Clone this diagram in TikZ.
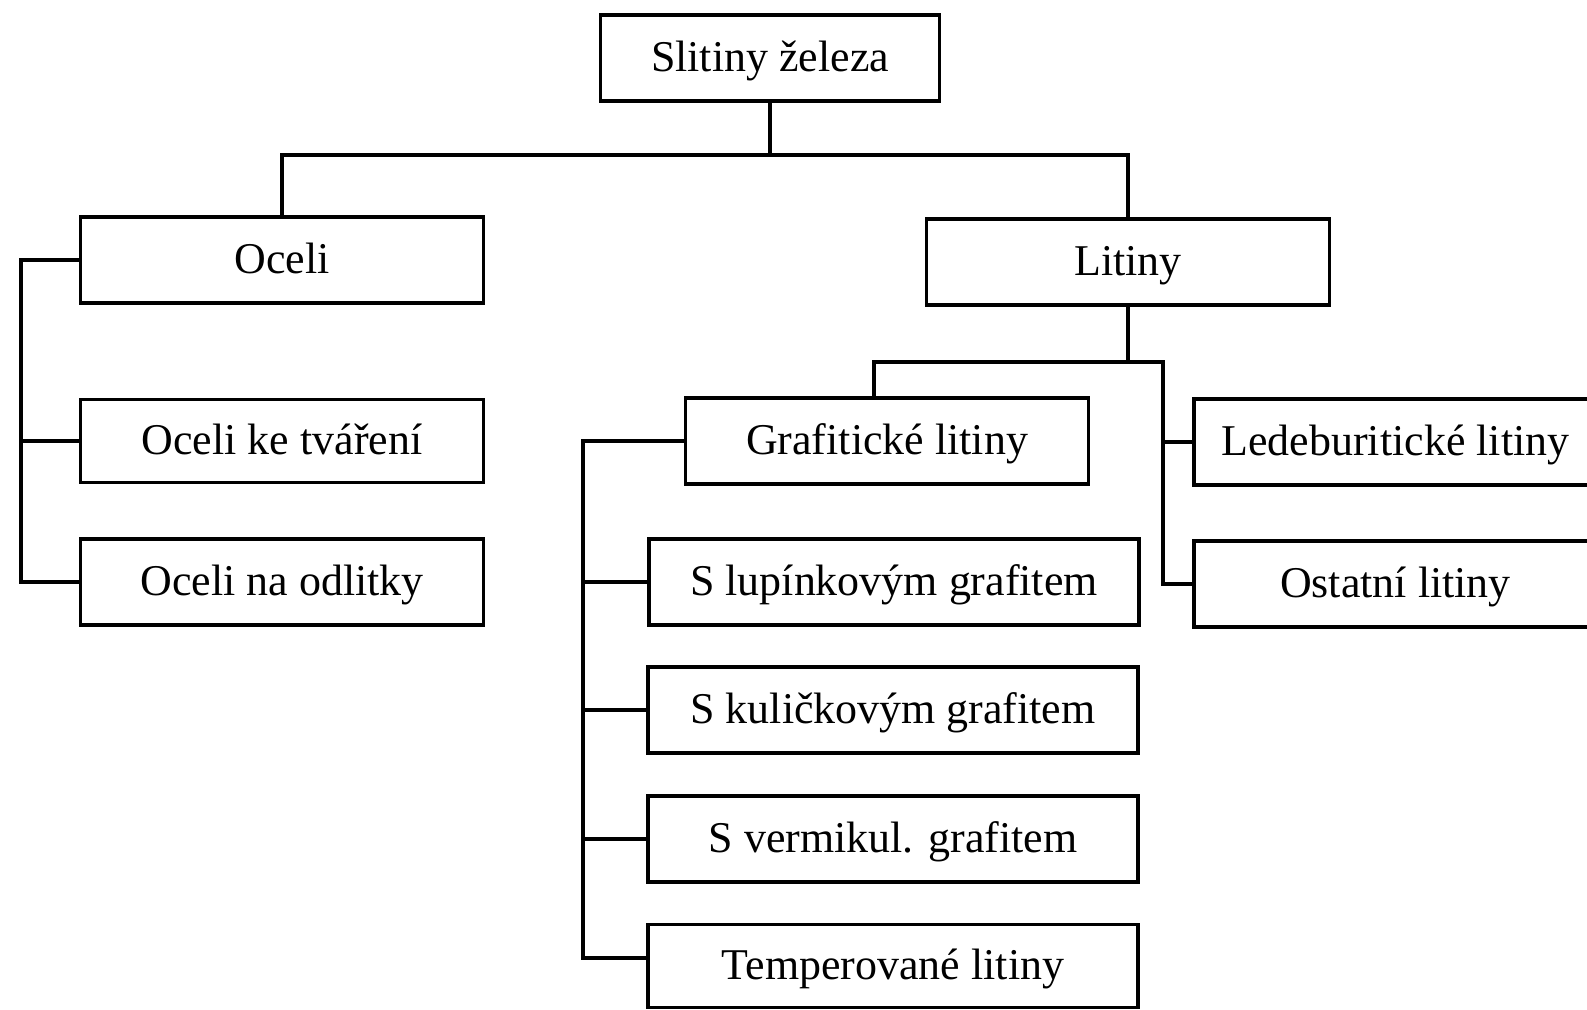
\documentclass[tikz,border=0pt]{standalone}
\usepackage{fontspec}
\setmainfont{Liberation Serif}
\usetikzlibrary{calc,positioning}

\tikzset{
	box/.style={draw, line width=1.1pt, minimum width=4.03cm, minimum height=0.86cm, inner sep=0pt, text height=0.78em, text depth=0pt, font=\fontsize{12.5}{15}\selectfont},
	widebox/.style={box, minimum width=4.9cm},
	conn/.style={line width=0.9pt}
}

\begin{document}
\begin{tikzpicture}[x=0.1mm, y=-0.1mm]
			\useasboundingbox (0,0) rectangle (1587,1010);
			\clip (0,0) rectangle (1587,1010);
			\node[box, minimum width=3.39cm] (zel) at (770,58) {Slitiny železa};
			\node[box] (oceli) at (282,260) {Oceli};
			\node[box] (litiny) at (1128,262) {Litiny};
			\node[box, minimum height=0.83cm] (tvar) at (282,441) {Oceli ke tváření};
			\node[box] (odl) at (282,582) {Oceli na odlitky};
			\node[box] (graf) at (887,441) {Grafitické litiny};
			\node[box, anchor=west] (led) at (1192,442) {Ledeburitické litiny};
			\node[box, anchor=west] (ost) at (1192,584) {Ostatní litiny};
			\node[widebox] (lup) at (894,582) {S lupínkovým grafitem};
			\node[widebox] (kul) at (893,710) {S kuličkovým grafitem};
			\node[widebox] (verm) at (893,839) {S vermikul. grafitem};
			\node[widebox, minimum height=0.83cm] (temp) at (893,966) {Temperované litiny};
			\coordinate (trunk) at (770,155);
			\coordinate (lbus) at (1128,362);
			\coordinate (gtop) at ($(graf.north)+(-13,0)$);
			\coordinate (obar) at (21,0);
			\coordinate (gbar) at (583,0);
			\coordinate (rbar) at (1163,0);
			\draw[conn] (zel.south) -- (trunk);
			\draw[conn] (oceli.north) -- (oceli.north |- trunk) -- (litiny.north |- trunk) -- (litiny.north);
			\draw[conn] (oceli.west) -- (oceli.west -| obar) -- (odl.west -| obar) -- (odl.west);
			\draw[conn] (tvar.west) -- (tvar.west -| obar);
			\draw[conn] (litiny.south) -- (litiny.south |- lbus);
			\draw[conn] (gtop) -- (gtop |- lbus) -- (rbar |- lbus) -- (rbar |- ost.west) -- (ost.west);
			\draw[conn] (led.west) -- (led.west -| rbar);
			\draw[conn] (graf.west) -- (graf.west -| gbar) -- ($(temp.west -| gbar)+(0,-8)$) -- ($(temp.west)+(0,-8)$);
			\foreach \n in {lup,kul,verm} {
				\draw[conn] (\n.west) -- (\n.west -| gbar);
			};
		\end{tikzpicture}
\end{document}
